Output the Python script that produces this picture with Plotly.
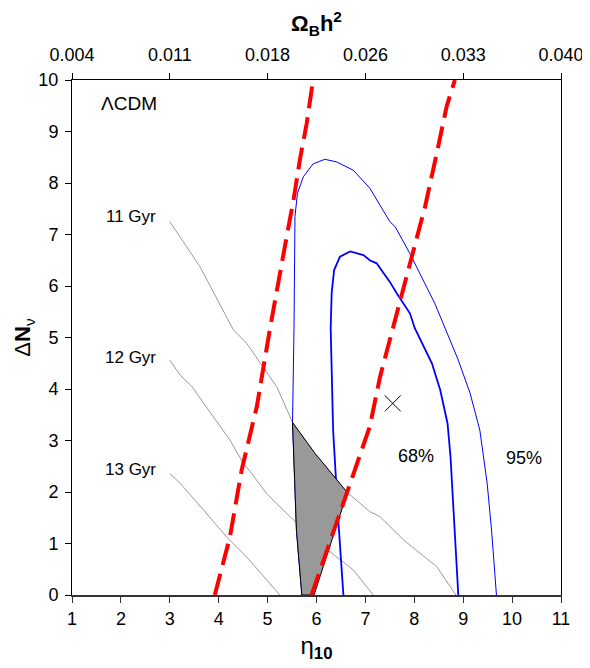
import plotly.graph_objects as go

# ---- data (eta_10, Delta N_nu) ----
red_left_x = [3.92, 4.23, 4.47, 4.78, 5.05, 5.22, 5.39, 5.53, 5.66, 5.80, 5.93]
red_left_y = [0.0, 1.13, 2.43, 3.66, 5.18, 6.12, 6.96, 7.67, 8.45, 9.16, 10.0]

red_right_x = [5.90, 6.62, 7.09, 7.30, 7.57, 7.95, 8.22, 8.46, 8.66, 8.83]
red_right_y = [0.0, 1.97, 3.27, 4.24, 5.21, 6.50, 7.54, 8.58, 9.48, 10.0]

c95_x = [5.70, 5.59, 5.51, 5.54, 5.56, 5.61, 5.73, 5.93, 6.17, 6.41, 6.75, 7.09, 7.50,
         7.61, 7.91, 8.18, 8.42, 8.63, 8.90, 9.14, 9.34, 9.49, 9.58, 9.68]
c95_y = [0.0, 1.26, 3.35, 5.18, 7.35, 7.80, 8.12, 8.37, 8.46, 8.41, 8.25, 7.90, 7.25,
         7.15, 6.63, 6.12, 5.66, 5.18, 4.56, 3.92, 3.20, 2.17, 1.26, 0.0]

c68_x = [6.55, 6.45, 6.34, 6.29, 6.31, 6.36, 6.48, 6.69, 6.96, 7.09, 7.23, 7.37, 7.50,
         7.64, 7.91, 8.01, 8.36, 8.53, 8.68, 8.74, 8.83, 8.90]
c68_y = [0.0, 1.39, 3.20, 5.18, 5.86, 6.31, 6.57, 6.67, 6.60, 6.50, 6.44, 6.25, 6.08,
         5.86, 5.47, 5.18, 4.50, 3.98, 3.33, 2.69, 1.26, 0.0]

age11_x = [3.00, 3.62, 4.16, 4.30, 4.57, 4.91, 5.19, 5.51, 5.97, 6.63, 7.09, 7.30, 7.78, 8.46, 8.85]
age11_y = [7.25, 6.37, 5.40, 5.15, 4.89, 4.43, 4.04, 3.35, 2.75, 1.99, 1.62, 1.52, 1.07, 0.55, 0.0]

age12_x = [3.00, 3.21, 3.45, 3.75, 3.89, 4.23, 4.50, 4.64, 4.98, 5.46, 6.14, 6.75, 7.16]
age12_y = [4.56, 4.27, 4.05, 3.66, 3.46, 3.01, 2.56, 2.40, 1.97, 1.52, 0.94, 0.49, 0.0]

age13_x = [3.00, 3.21, 3.69, 4.16, 4.57, 4.91, 5.25]
age13_y = [2.36, 2.17, 1.65, 1.13, 0.74, 0.36, 0.0]

poly_x = [5.51, 5.97, 6.63, 5.95, 5.70, 5.59, 5.51]
poly_y = [3.35, 2.75, 1.99, 0.0, 0.0, 1.26, 3.35]

best_x = [7.56]
best_y = [3.72]

x_ticks = [1, 2, 3, 4, 5, 6, 7, 8, 9, 10, 11]
y_ticks = [0, 1, 2, 3, 4, 5, 6, 7, 8, 9, 10]
top_tickvals = [1, 3, 5, 7, 9, 11]
top_ticktext = ["0.004", "0.011", "0.018", "0.026", "0.033", "0.040"]

FONT = "Liberation Sans, Arial, sans-serif"

fig = go.Figure()

for xs, ys in [(age11_x, age11_y), (age12_x, age12_y), (age13_x, age13_y)]:
    fig.add_trace(go.Scatter(x=xs, y=ys, mode="lines",
                             line=dict(color="#9a9a9a", width=1), hoverinfo="skip"))

fig.add_trace(go.Scatter(x=c95_x, y=c95_y, mode="lines", line=dict(color="#0000ff", width=1)))
fig.add_trace(go.Scatter(x=c68_x, y=c68_y, mode="lines", line=dict(color="#0000ff", width=1.8)))

fig.add_trace(go.Scatter(x=poly_x, y=poly_y, mode="lines", fill="toself",
                         fillcolor="#999999", line=dict(color="black", width=1)))

for xs, ys in [(red_left_x, red_left_y), (red_right_x, red_right_y)]:
    fig.add_trace(go.Scatter(x=xs, y=ys, mode="lines",
                             line=dict(color="#ff0000", width=4, dash="22px,9px")))

fig.add_trace(go.Scatter(x=best_x, y=best_y, mode="markers",
                         marker=dict(symbol="x-thin", size=16, line=dict(color="black", width=1))))

# invisible trace for the top axis
fig.add_trace(go.Scatter(x=[1, 11], y=[0, 0], xaxis="x2", mode="markers",
                         marker=dict(opacity=0), hoverinfo="skip"))

annotations = [
    dict(x=1.55, y=9.55, text="ΛCDM", xanchor="left", font=dict(size=19)),
    dict(x=2.76, y=7.34, text="11 Gyr", xanchor="right", font=dict(size=17)),
    dict(x=2.76, y=4.62, text="12 Gyr", xanchor="right", font=dict(size=17)),
    dict(x=2.76, y=2.43, text="13 Gyr", xanchor="right", font=dict(size=17)),
    dict(x=8.03, y=2.70, text="68%", font=dict(size=18)),
    dict(x=10.25, y=2.67, text="95%", font=dict(size=18)),
]
for a in annotations:
    a.update(xref="x", yref="y", showarrow=False)
    a["font"].update(family=FONT, color="black")

fig.update_layout(
    width=582, height=660,
    margin=dict(l=64, r=29, t=72, b=73),
    paper_bgcolor="white", plot_bgcolor="white",
    showlegend=False,
    font=dict(family=FONT, size=18, color="black"),
    xaxis=dict(range=[1, 11], tickvals=x_ticks, ticks="outside", ticklen=6,
               tickcolor="#333", tickwidth=1, showgrid=False, zeroline=False,
               showline=True, linecolor="#333", linewidth=2, automargin=False,
               title=dict(text="η<sub><b>10</b></sub>", font=dict(size=24), standoff=10)),
    xaxis2=dict(range=[1, 11], overlaying="x", side="top", tickvals=top_tickvals,
                ticktext=top_ticktext, ticks="outside", ticklen=6, tickcolor="black",
                ticklabelstandoff=5, automargin=False,
                showgrid=False, zeroline=False, showline=True, linecolor="black", linewidth=1,
                title=dict(text="<b>Ω<sub>B</sub>h<sup>2</sup></b>", font=dict(size=22), standoff=14)),
    yaxis=dict(range=[0, 10], tickvals=y_ticks, ticks="outside", ticklen=6,
               tickcolor="black", showgrid=False, zeroline=False, showline=True,
               linecolor="black", linewidth=1, mirror=True, ticklabelstandoff=3,
               automargin=False,
               title=dict(text="Δ<b>N</b><sub>ν</sub>", font=dict(size=22), standoff=1)),
    annotations=annotations,
)

fig.write_html("out.html")
